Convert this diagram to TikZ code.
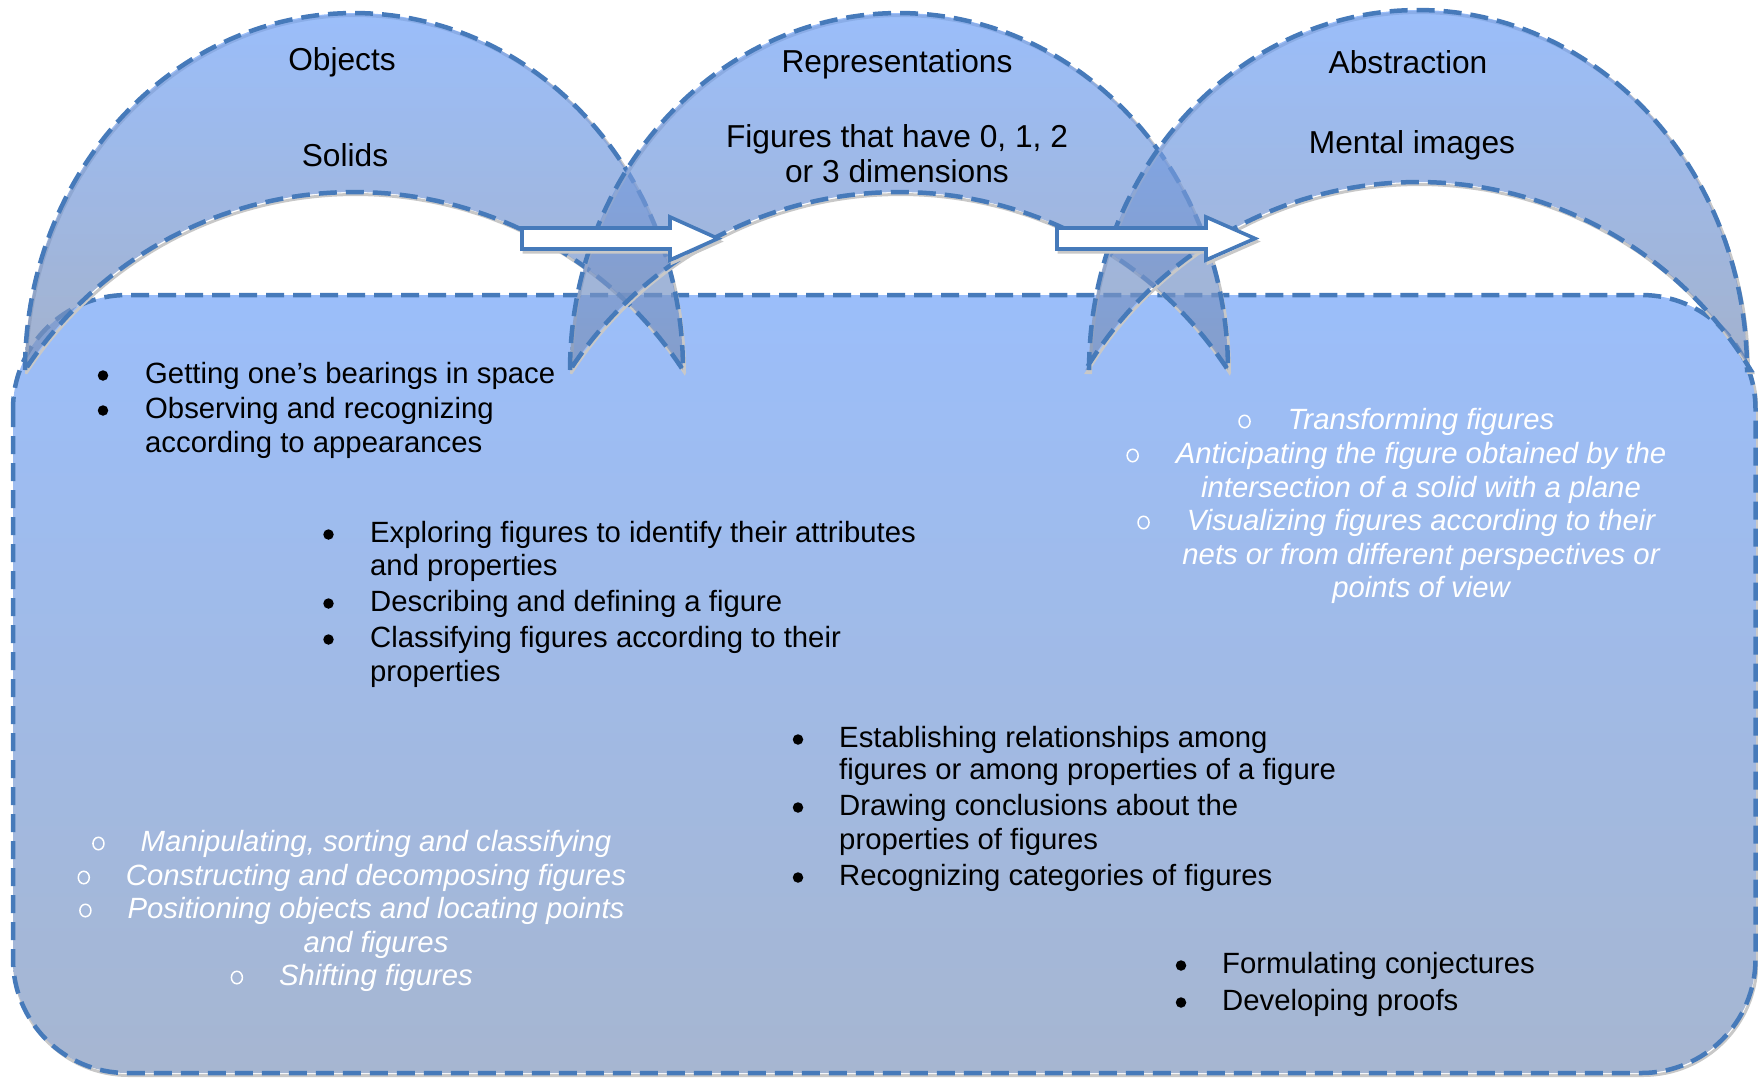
\documentclass[tikz,border=0pt]{standalone}
\usepackage{fontspec}
\usetikzlibrary{shapes.geometric}
\setmainfont{Liberation Sans}
\definecolor{edgeblue}{RGB}{70,122,186}
\definecolor{recttop}{RGB}{155,190,250}
\definecolor{rectbot}{RGB}{166,182,209}
\definecolor{archtop}{RGB}{112,162,248}
\definecolor{archbot}{RGB}{124,145,184}
\definecolor{shadowgray}{RGB}{200,200,200}
\def\archA{plot[domain=0:180,samples=120,variable=\t] ({354-329*cos(\t)},{370-357*sin(\t)}) -- plot[domain=33.17:146.83,samples=80,variable=\t] ({354+393.05*cos(\t)},{585.05-393.05*sin(\t)}) -- cycle}
\def\archB{plot[domain=0:180,samples=120,variable=\t] ({899-329*cos(\t)},{370-357*sin(\t)}) -- plot[domain=33.17:146.83,samples=80,variable=\t] ({899+393.05*cos(\t)},{585.05-393.05*sin(\t)}) -- cycle}
\def\archC{plot[domain=0:180,samples=120,variable=\t] ({1418-329*cos(\t)},{370-360*sin(\t)}) -- plot[domain=31.06:148.94,samples=80,variable=\t] ({1418+388.36*cos(\t)},{570.36-388.36*sin(\t)}) -- cycle}
\def\arrowA{(522,228) -- (670,228) -- (670,217) -- (718,238.5) -- (670,260) -- (670,249) -- (522,249) -- cycle}
\def\arrowB{(1057,228) -- (1206,228) -- (1206,217) -- (1255,238.5) -- (1206,260) -- (1206,249) -- (1057,249) -- cycle}
\begin{document}
\begin{tikzpicture}[x=1pt,y=-1pt,
  dashedge/.style={draw=edgeblue, line width=4.5pt, dash pattern=on 18pt off 9pt},
  shadowline/.style={draw=shadowgray, line width=3pt},
  archshade/.style={top color=archtop, bottom color=archbot, fill opacity=0.7},
  arrowbody/.style={fill=white, draw=edgeblue, line width=3.6pt, line join=miter},
  headtext/.style={font=\fontsize{31.7}{38}\selectfont, inner sep=0pt, anchor=base},
  bodytext/.style={font=\fontsize{29.3}{35}\selectfont, inner sep=0pt, anchor=base west},
  itext/.style={font=\fontsize{29.3}{35}\selectfont\itshape, text=white, inner sep=0pt, anchor=base},
  bulletdot/.style={circle, fill=black, inner sep=0pt, minimum size=10.5pt},
  obullet/.style={ellipse, draw=white, line width=1.5pt, inner sep=0pt, minimum width=11pt, minimum height=12.5pt}]
\useasboundingbox (0,0) rectangle (1758,1077);
% main rounded panel
\draw[shadowline, rounded corners=114pt] (14.5,297.5) rectangle (1757,1075.5);
\shade[top color=recttop, bottom color=rectbot, rounded corners=114pt] (13,295) rectangle (1755.5,1073);
\draw[dashedge, rounded corners=114pt] (13,295) rectangle (1755.5,1073);
% arches
\draw[shadowline, shift={(1.5,2.5)}] \archA;
\shade[archshade] \archA;
\draw[dashedge] \archA;
\draw[shadowline, shift={(1.5,2.5)}] \archB;
\shade[archshade] \archB;
\draw[dashedge] \archB;
\draw[shadowline, shift={(1.5,2.5)}] \archC;
\shade[archshade] \archC;
\draw[dashedge] \archC;
% arrows
\draw[shadowline, shift={(2,3)}] \arrowA;
\draw[arrowbody] \arrowA;
\draw[shadowline, shift={(2,3)}] \arrowB;
\draw[arrowbody] \arrowB;
% headings
\node[headtext] (hobj) at (342,70) {Objects};
\node[headtext] (hsol) at (345,166) {Solids};
\node[headtext] (hrep) at (897,72) {Representations};
\node[headtext] (hfig1) at (897,147) {Figures that have 0, 1, 2};
\node[headtext] (hfig2) at (897,182) {or 3 dimensions};
\node[headtext] (habs) at (1408,73) {Abstraction};
\node[headtext] (hmen) at (1412,153) {Mental images};
% block A
\node[bodytext] (a1) at (145,383) {Getting one’s bearings in space};
\node[bodytext] (a2) at (145,418) {Observing and recognizing};
\node[bodytext] (a3) at (145,452) {according to appearances};
\node[bulletdot] (a1b) at (103,375.5) {};
\node[bulletdot] (a2b) at (103,410.5) {};
% block B
\node[bodytext] (b1) at (370,542) {Exploring figures to identify their attributes};
\node[bodytext] (b2) at (370,575) {and properties};
\node[bodytext] (b3) at (370,611) {Describing and defining a figure};
\node[bodytext] (b4) at (370,647) {Classifying figures according to their};
\node[bodytext] (b5) at (370,681) {properties};
\node[bulletdot] (b1b) at (328.5,534.5) {};
\node[bulletdot] (b3b) at (328.5,603.5) {};
\node[bulletdot] (b4b) at (328.5,639.5) {};
% block C
\node[bodytext] (c1) at (839,747) {Establishing relationships among};
\node[bodytext] (c2) at (839,779) {figures or among properties of a figure};
\node[bodytext] (c3) at (839,815) {Drawing conclusions about the};
\node[bodytext] (c4) at (839,849) {properties of figures};
\node[bodytext] (c5) at (839,885) {Recognizing categories of figures};
\node[bulletdot] (c1b) at (798,739.5) {};
\node[bulletdot] (c3b) at (798,807.5) {};
\node[bulletdot] (c5b) at (798,877.5) {};
% block D
\node[bodytext] (d1) at (1222,973) {Formulating conjectures};
\node[bodytext] (d2) at (1222,1010) {Developing proofs};
\node[bulletdot] (d1b) at (1181,965.5) {};
\node[bulletdot] (d2b) at (1181,1002.5) {};
% block E (italic, white, centred)
\node[itext] (e1) at (1421,429) {Transforming figures};
\node[itext] (e2) at (1421,463) {Anticipating the figure obtained by the};
\node[itext] (e3) at (1421,497) {intersection of a solid with a plane};
\node[itext] (e4) at (1421,530) {Visualizing figures according to their};
\node[itext] (e5) at (1421,564) {nets or from different perspectives or};
\node[itext] (e6) at (1421,597) {points of view};
\node[obullet] (e1o) at ([shift={(-43pt,7.5pt)}]e1.base west) {};
\node[obullet] (e2o) at ([shift={(-43pt,7.5pt)}]e2.base west) {};
\node[obullet] (e4o) at ([shift={(-43pt,7.5pt)}]e4.base west) {};
% block F (italic, white, centred)
\node[itext] (f1) at (376,851) {Manipulating, sorting and classifying};
\node[itext] (f2) at (376,885) {Constructing and decomposing figures};
\node[itext] (f3) at (376,918) {Positioning objects and locating points};
\node[itext] (f4) at (376,952) {and figures};
\node[itext] (f5) at (376,985) {Shifting figures};
\node[obullet] (f1o) at ([shift={(-42pt,7.5pt)}]f1.base west) {};
\node[obullet] (f2o) at ([shift={(-42pt,7.5pt)}]f2.base west) {};
\node[obullet] (f3o) at ([shift={(-42pt,7.5pt)}]f3.base west) {};
\node[obullet] (f5o) at ([shift={(-42pt,7.5pt)}]f5.base west) {};
\end{tikzpicture}
\end{document}
